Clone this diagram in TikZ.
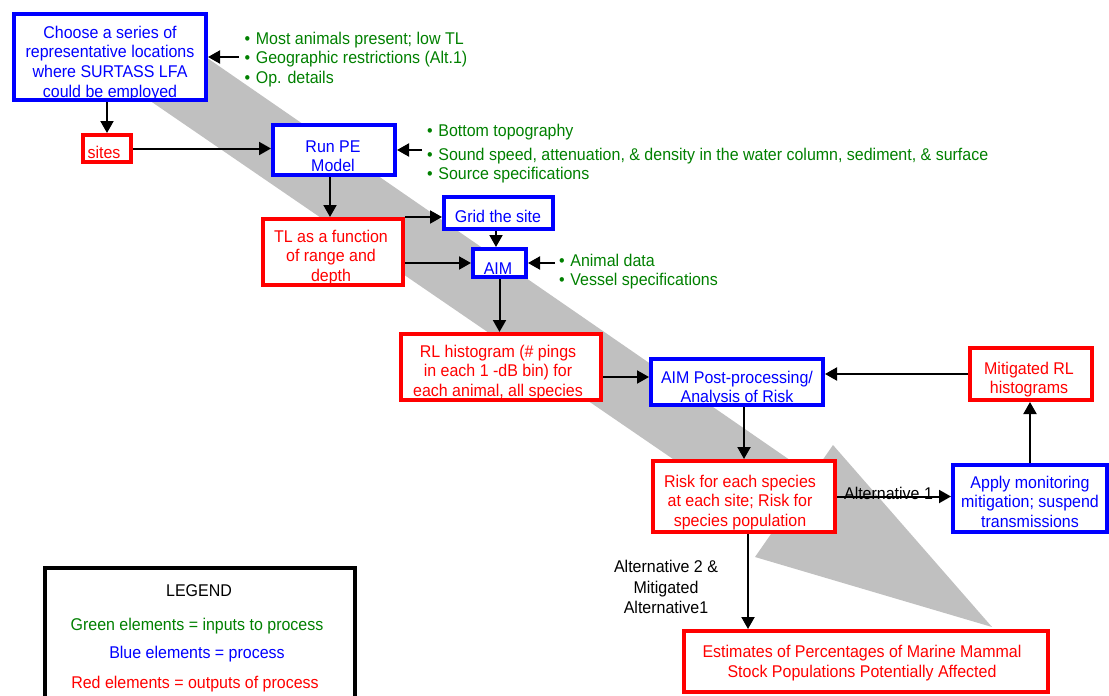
\documentclass[tikz,border=0pt]{standalone}
\usepackage{fontspec}
\setmainfont[FakeStretch=0.94]{Liberation Sans}
\usetikzlibrary{arrows.meta}
\definecolor{cblue}{RGB}{0,0,255}
\definecolor{cred}{RGB}{255,0,0}
\definecolor{cgreen}{RGB}{0,128,0}
\definecolor{cgray}{RGB}{192,192,192}
\newcommand{\fl}{\rule{0pt}{12.6pt}}
\newcommand{\bul}{\textbullet\hspace{5.6pt}}
\begin{document}
\begin{tikzpicture}[x=1pt,y=-1pt,
  every node/.style={font=\fontsize{17}{19.7}\selectfont},
  box/.style={draw, line width=4pt, fill=white, inner sep=0pt, rectangle},
  bbox/.style={box, draw=cblue},
  rbox/.style={box, draw=cred},
  txt/.style={inner sep=0pt, align=center, anchor=north},
  btxt/.style={txt, text=cblue},
  rtxt/.style={txt, text=cred},
  glist/.style={inner sep=0pt, align=left, anchor=north west, text=cgreen},
  arr/.style={line width=2pt, -{Triangle[length=12pt,width=13pt]}},
]
\useasboundingbox (0,0) rectangle (1109,696);
\clip (0,0) rectangle (1109,696);

% big gray process arrow
\fill[cgray] (120,80.2) -- (774.7,528.7) -- (755,557) -- (992,627) -- (833,445) -- (812,475.3) -- (158.4,24.3) -- cycle;

% boxes
\node[bbox, minimum width=192pt, minimum height=86pt] (b1) at (110,57) {};
\node[btxt] (b1t) at (110,25.4) {\fl Choose a series of\\representative locations\\where SURTASS LFA\\could be employed};

\node[rbox, minimum width=48pt, minimum height=27pt] (sites) at (107,148.5) {};
\node[rtxt, anchor=base] (sitest) at (104,158) {sites};

\node[bbox, minimum width=122pt, minimum height=50pt] (pe) at (334,150) {};
\node[btxt] (pet) at (333,139.4) {\fl Run PE\\Model};

\node[rbox, minimum width=140pt, minimum height=66pt] (tl) at (333,252) {};
\node[rtxt] (tlt) at (331,229.4) {\fl TL as a function\\of range and\\depth};

\node[bbox, minimum width=109pt, minimum height=32pt] (grid) at (498.5,213) {};
\node[btxt, anchor=base] (gridt) at (498,222) {Grid the site};

\node[bbox, minimum width=53pt, minimum height=28pt] (aim) at (499.5,263) {};
\node[btxt, anchor=base] (aimt) at (498,274) {AIM};

\node[rbox, minimum width=200pt, minimum height=66pt] (rl) at (501,367) {};
\node[rtxt] (rlt) at (498,344.4) {\fl RL histogram (\# pings\\in each 1 -dB bin) for\\each animal, all species};

\node[bbox, minimum width=172pt, minimum height=46pt] (post) at (737,382) {};
\node[btxt] (postt) at (737,370.4) {\fl AIM Post-processing/\\Analysis of Risk};

\node[rbox, minimum width=122pt, minimum height=52pt] (mit) at (1031,374) {};
\node[rtxt] (mitt) at (1029,361.4) {\fl Mitigated RL\\histograms};

\node[rbox, minimum width=182pt, minimum height=71pt] (risk) at (744,496.5) {};
\node[rtxt] (riskt) at (740,474.4) {\fl Risk for each species\\at each site; Risk for\\species population};

\node[bbox, minimum width=154pt, minimum height=67pt] (apply) at (1030,498.5) {};
\node[btxt] (applyt) at (1030,475.4) {\fl Apply monitoring\\mitigation; suspend\\transmissions};

\node[rbox, minimum width=364pt, minimum height=61pt] (est) at (866,661.5) {};
\node[rtxt] (estt) at (862,644.9) {\fl Estimates of Percentages of Marine Mammal\\Stock Populations Potentially Affected};

% green inputs
\node[glist] (g1) at (244.5,31.4) {\fl\bul Most animals present; low TL\\\bul Geographic restrictions (Alt.1)\\\bul Op. details};
\node[glist] (g2) at (427,123.4) {\fl\bul Bottom topography\\[4.3pt]\bul Sound speed, attenuation, \& density in the water column, sediment, \& surface\\\bul Source specifications};
\node[glist] (g3) at (559,253.4) {\fl\bul Animal data\\\bul Vessel specifications};

% legend
\node[box, draw=black, minimum width=310pt, minimum height=152pt] (leg) at (200,644) {};
\node[txt, anchor=base] (legt) at (199,596) {LEGEND};
\node[txt, anchor=base, text=cgreen] (leg1) at (197,630) {Green elements = inputs to process};
\node[txt, anchor=base, text=cblue] (leg2) at (197,658) {Blue elements = process};
\node[txt, anchor=base, text=cred] (leg3) at (195,688) {Red elements = outputs of process};

% labels
\node[txt, anchor=base] (alt1) at (888.5,499) {Alternative 1};
\node[txt] (alt2) at (666,559.4) {\fl Alternative 2 \&\\[2pt]Mitigated\\Alternative1};

% helper coordinates
\path ([xshift=-4pt]pe.south) coordinate (peS);
\path ([xshift=-2.5pt]grid.south) coordinate (gS);
\path ([yshift=5pt]post.west) coordinate (pW);
\path ([xshift=4pt]risk.south) coordinate (rS);

% connectors
\draw[arr] (sites.north |- b1.south) -- (sites.north);
\draw[arr] (sites.east) -- (sites.east -| pe.west);
\draw[arr, shorten <=6pt] (g1.west |- b1.east) -- (b1.east);
\draw[arr] (peS) -- (peS |- tl.north);
\draw[arr, shorten <=5pt] (g2.west |- pe.east) -- (pe.east);
\draw[arr] (tl.north east) -- (tl.north east -| grid.west);
\draw[arr] (tl.east |- aim.west) -- (aim.west);
\draw[arr] (gS) -- (gS |- aim.north);
\draw[arr, shorten <=4pt] (g3.west |- aim.east) -- (aim.east);
\draw[arr] (aim.south) -- (aim.south |- rl.north);
\draw[arr] (pW -| rl.east) -- (pW);
\draw[arr] (mit.west) -- (mit.west -| post.east);
\draw[arr] (risk.north |- post.south) -- (risk.north);
\draw[arr] (risk.east) -- (risk.east -| apply.west);
\draw[arr] (apply.north) -- (apply.north |- mit.south);
\draw[arr] (rS) -- (rS |- est.north);
\end{tikzpicture}
\end{document}
